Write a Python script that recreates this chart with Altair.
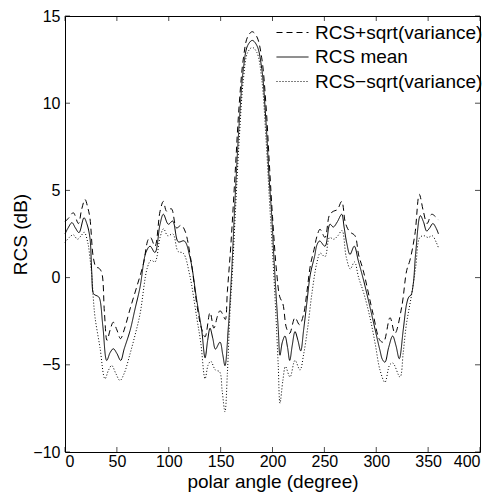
import altair as alt
import pandas as pd

series_names = ["RCS+sqrt(variance)", "RCS mean", "RCS\u2212sqrt(variance)"]

angle_plus = [0, 4, 8, 12.9, 16, 19.3, 22, 24, 27.3, 30, 32.5, 35.3, 38, 40.5, 43.5, 46.5, 50, 53.5, 57,
              62.7, 69, 75.5, 80.3, 82.5, 86.7, 91.6, 94.8, 98, 102.5, 107.5, 112, 115.7, 121, 127.5, 131.5,
              135, 139.8, 143.5, 147, 149.4, 152, 154.5, 156.5, 160, 164, 168, 172, 176, 180.5, 185, 189.6,
              193.7, 197, 200, 204, 207, 210, 213.5, 216.5, 221.7, 226, 230, 233, 236.5, 240, 243, 245.8,
              250.6, 255, 258.6, 262.5, 266.7, 270, 272.5, 275, 279.5, 283, 287.5, 297, 303.6, 307, 313.3,
              318, 324.5, 329.3, 332.5, 337.3, 341.5, 345.4, 349, 353.4, 357, 360]
rcs_plus = [3.2, 3.45, 3.72, 3.1, 3.9, 4.48, 4.0, 3.43, 1.15, 0.6, 0.55, 0.3, -2.0, -3.6, -3.0, -2.56, -3.0, -3.5, -3.0,
            -1.8, -0.56, 0.77, 2.2, 2.3, 1.8, 3.8, 4.37, 3.8, 3.95, 2.85, 3.0, 2.67, 1.15, -1.7, -2.9,
            -3.4, -2.0, -2.9, -2.2, -1.9, -2.1, -2.4, -0.8, 2.0, 6.0, 10.0, 12.6, 13.8, 14.1, 13.8, 12.6,
            9.9, 6.5, 3.5, 0.3, -1.1, -1.5, -2.9, -3.2, -2.3, -2.7, -2.1, -0.9, 0.7, 1.6, 2.4, 2.77,
            2.3, 3.6, 3.8, 3.9, 4.37, 3.2, 2.8, 2.6, 2.4, 1.3, 0.4, -2.1, -3.6, -3.7, -2.3,
            -3.2, -1.7, 0.4, 1.0, 2.5, 4.77, 3.8, 3.1, 3.63, 3.5, 3.3]

angle_mean = [0, 3, 6.7, 10, 13.5, 18.3, 21, 24, 25.7, 27.3, 29, 31, 33, 36.5, 40.2, 43.5, 46.6, 50, 53.7, 57,
              62.7, 67.5, 72.3, 78, 82, 86.7, 91.6, 94.8, 99.6, 103.8, 109.2, 115, 120.5, 127, 131.8, 135,
              137.5, 139.8, 142.5, 145, 149.4, 152, 154.2, 157.5, 160.7, 164, 168, 172, 176, 180.5, 185,
              189.6, 193.7, 197, 199.2, 201.5, 204, 205.6, 207.2, 209.5, 212, 214.5, 216.6, 219, 221.7,
              224.5, 227.2, 230, 233, 236.5, 240.5, 243, 245.5, 250.6, 255.4, 258.6, 262.5, 266.7, 269,
              271.5, 274.7, 278.8, 282.7, 288, 294, 299, 303.6, 306, 308.4, 312, 315.8, 319, 322.2, 326,
              329.3, 331.5, 333.5, 335.7, 338, 342.5, 345.5, 348.6, 351.5, 354.6, 358, 360]
rcs_mean = [2.5, 2.85, 3.15, 2.85, 2.58, 3.43, 3.1, 2.3, 0.4, -0.9, -1.0, -1.05, -1.15, -2.8, -4.75, -4.3, -4.08,
            -4.35, -4.75, -4.1, -3.04, -1.8, -0.56, 1.44, 1.8, 1.44, 3.06, 3.63, 3.06, 3.24, 2.05, 2.1, 1.15,
            -1.3, -3.04, -4.6, -3.6, -2.9, -3.5, -4.1, -3.7, -4.4, -5.05, -2.8, 0.4, 4.6, 8.95, 12.0, 13.3,
            13.6, 13.3, 12.0, 8.95, 5.5, 3.6, 1.0, -1.5, -3.0, -4.45, -3.7, -3.35, -4.0, -4.75, -3.9, -3.1,
            -3.6, -4.2, -3.0, -1.5, 0.2, 1.2, 1.9, 2.1, 1.8, 3.06, 2.9, 3.2, 3.63, 2.9, 2.0, 1.33, 1.8, 0.97,
            -0.2, -1.7, -3.0, -4.18, -4.7, -4.85, -4.0, -3.35, -3.9, -4.65, -3.0, -1.5, -1.1, -1.0, -0.36,
            1.4, 3.55, 3.2, 2.67, 2.85, 3.1, 2.8, 2.5]

angle_minus = [0, 4, 8, 12, 15.5, 18.5, 22, 24, 26, 27.3, 29, 33.7, 38.5, 42, 45, 49, 53, 57, 62.7, 67.5,
               72.3, 79.4, 83, 86.7, 91.6, 95, 99, 104, 109, 114, 120, 127, 131, 135, 138, 140.5, 145, 149,
               151.5, 154.2, 156.5, 159, 161.5, 164, 168, 172, 176, 180.5, 185, 189.6, 193.7, 197, 200, 203,
               205.5, 207.2, 210, 212.5, 216.9, 221.7, 226.5, 230, 234, 238, 242.6, 246, 250.6, 255, 259,
               263, 267, 271, 275, 279, 283, 288, 294, 299, 303.6, 308.4, 313, 316, 322.9, 326, 329, 334,
               338, 342, 346, 350, 354, 358, 360]
rcs_minus = [2.0, 2.3, 2.45, 2.2, 2.4, 2.6, 2.0, 1.15, 0.0, -1.2, -2.3, -4.0, -5.8, -5.3, -5.04, -5.5, -5.9, -5.5,
             -4.37, -3.3, -2.1, 0.58, 1.0, 0.9, 2.3, 2.8, 2.4, 2.5, 1.5, 1.4, 0.2, -2.3, -3.8, -5.8, -5.0,
             -4.8, -5.3, -5.4, -6.5, -7.7, -5.5, -2.0, 0.5, 3.5, 8.0, 11.4, 12.9, 13.2, 12.9, 11.4, 8.0, 4.5,
             1.5, -1.8, -5.0, -7.2, -5.9, -5.1, -5.7, -4.75, -5.3, -4.4, -2.85, -0.9, 0.8, 1.4, 1.2, 2.3,
             2.2, 2.4, 2.7, 1.2, 0.5, 0.9, 0.0, -0.9, -2.3, -3.8, -5.3, -6.0, -5.0, -4.9, -5.7, -4.3, -2.7,
             -1.0, 0.6, 2.3, 2.4, 2.3, 2.4, 2.0, 1.7]

x_ticks = [0, 50, 100, 150, 200, 250, 300, 350, 400]
y_ticks = [-10, -5, 0, 5, 10, 15]

rows = []
for name, xs, ys in zip(series_names, [angle_plus, angle_mean, angle_minus],
                        [rcs_plus, rcs_mean, rcs_minus]):
    for i, (a, r) in enumerate(zip(xs, ys)):
        rows.append({"angle": a, "rcs": r, "series": name, "order": i})
df = pd.DataFrame(rows)

W, H = 415, 436
FONT = "Liberation Sans"
xscale = alt.Scale(domain=[0, 400], nice=False, zero=False)
yscale = alt.Scale(domain=[-10, 15], nice=False, zero=False)
x_axis = alt.Axis(values=x_ticks, title="polar angle (degree)", labelPadding=1, titlePadding=3)
y_axis = alt.Axis(values=y_ticks, title="RCS (dB)", labelPadding=5, titlePadding=2)

lines = alt.Chart(df).mark_line(color="black", strokeWidth=1, interpolate="catmull-rom").encode(
    x=alt.X("angle:Q", scale=xscale, axis=x_axis),
    y=alt.Y("rcs:Q", scale=yscale, axis=y_axis),
    strokeDash=alt.StrokeDash(
        "series:N",
        scale=alt.Scale(domain=series_names, range=[[6, 4], [1, 0], [1, 2]]),
        legend=alt.Legend(title=None, orient="none", legendX=218, legendY=7,
                          symbolType="M-2,0H2", symbolSize=256, symbolStrokeWidth=1,
                          symbolStrokeColor="black", labelFontSize=19, labelFont=FONT,
                          labelColor="black", labelOffset=13, rowPadding=4.5, labelLimit=300),
    ),
    order="order:Q",
)

xt = pd.DataFrame({"angle": x_ticks})
yt = pd.DataFrame({"rcs": y_ticks})
tick_len = 5
bottom = alt.Chart(xt).mark_tick(orient="vertical", size=tick_len, thickness=1, color="black").encode(
    x=alt.X("angle:Q", scale=xscale, axis=x_axis), y=alt.value(H - tick_len / 2))
top = alt.Chart(xt).mark_tick(orient="vertical", size=tick_len, thickness=1, color="black").encode(
    x=alt.X("angle:Q", scale=xscale, axis=x_axis), y=alt.value(tick_len / 2))
left = alt.Chart(yt).mark_tick(orient="horizontal", size=tick_len, thickness=1, color="black").encode(
    y=alt.Y("rcs:Q", scale=yscale, axis=y_axis), x=alt.value(tick_len / 2))
right = alt.Chart(yt).mark_tick(orient="horizontal", size=tick_len, thickness=1, color="black").encode(
    y=alt.Y("rcs:Q", scale=yscale, axis=y_axis), x=alt.value(W - tick_len / 2))

chart = alt.layer(lines, bottom, top, left, right).properties(
    width=W, height=H,
    autosize=alt.AutoSizeParams(type="none"),
    padding={"left": 57, "top": 8, "right": 10, "bottom": 44},
    background="white",
).configure_view(stroke="black", strokeWidth=1).configure_axis(
    grid=False, ticks=False, domain=False,
    labelFont=FONT, labelFontSize=16, labelColor="black",
    titleFont=FONT, titleFontSize=19, titleFontWeight="normal", titleColor="black",
)

chart.save("out.html", embed_options={"renderer": "svg", "actions": False})
